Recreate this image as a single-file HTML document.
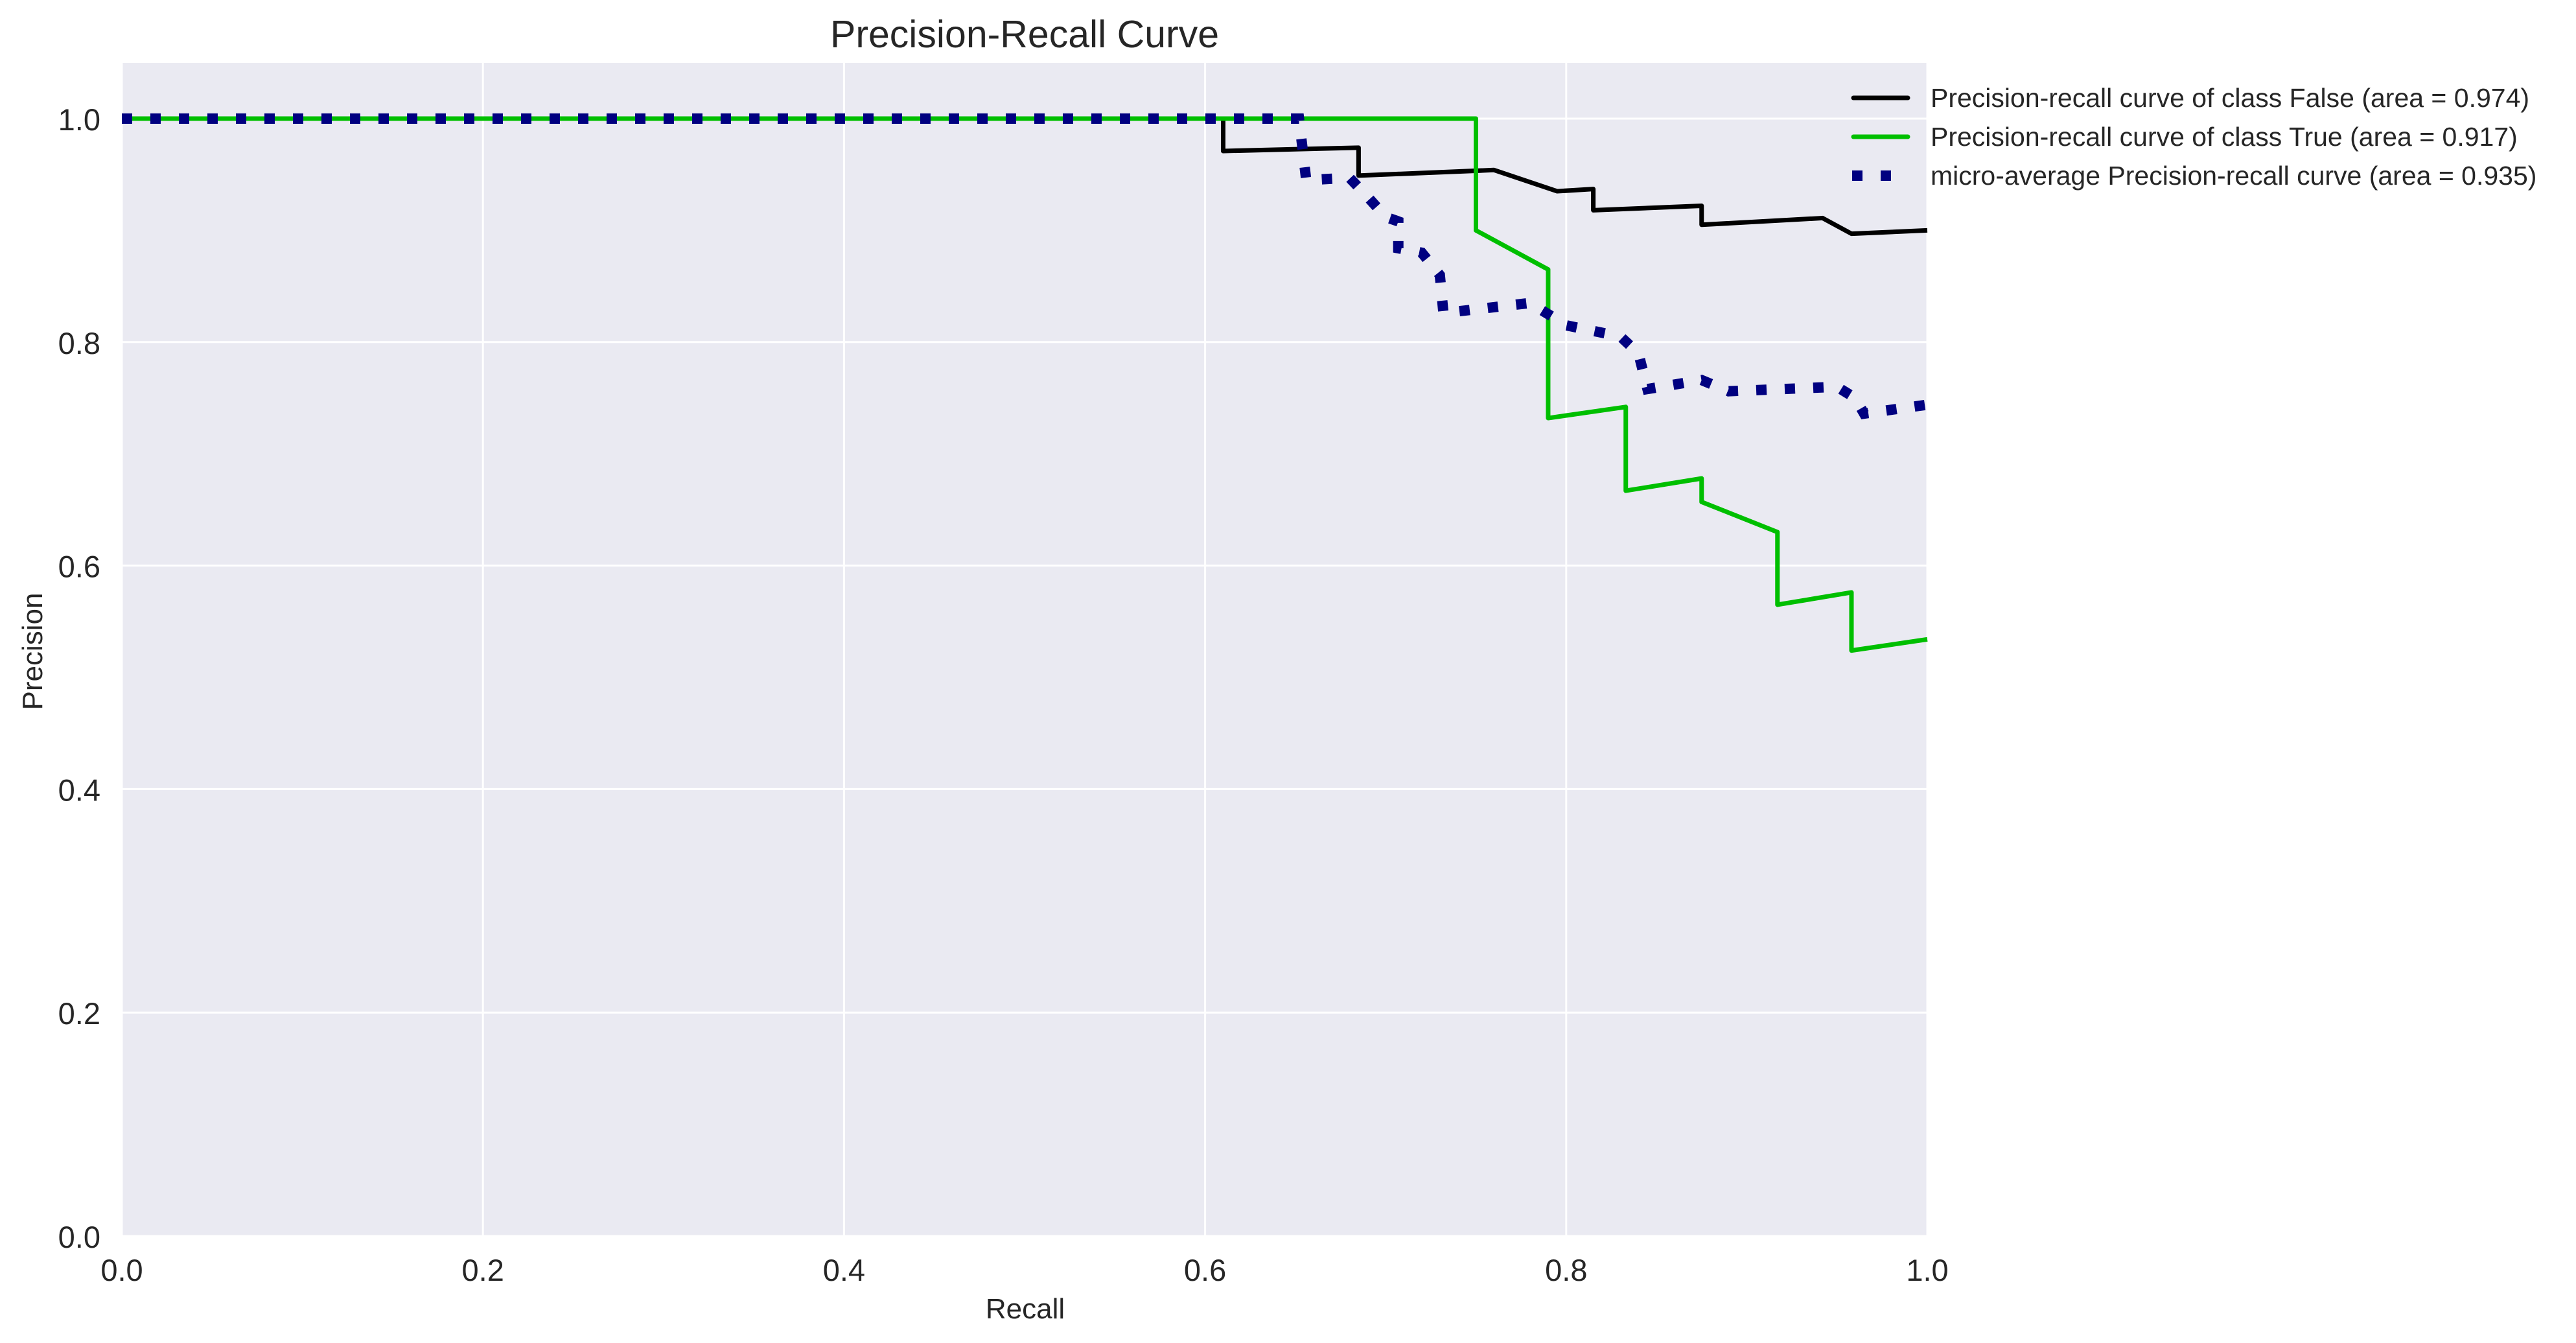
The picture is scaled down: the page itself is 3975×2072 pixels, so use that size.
<!DOCTYPE html>
<html><head><meta charset="utf-8"><style>html,body{margin:0;padding:0;background:#fff}svg{display:block}</style></head>
<body>
<svg width="3975" height="2072" viewBox="0 0 3975 2072" xmlns="http://www.w3.org/2000/svg" font-family="Liberation Sans, sans-serif">
<rect x="188" y="97" width="2786" height="1810" fill="#eaeaf2"/>
<g id="grid"></g>
<g id="series"></g>
<g id="ticks" fill="#262626" font-size="47"></g>
<text x="1581" y="73" text-anchor="middle" font-size="59" fill="#262626">Precision-Recall Curve</text>
<text x="1582" y="2034" text-anchor="middle" font-size="44" fill="#262626">Recall</text>
<text transform="translate(65,1005) rotate(-90)" text-anchor="middle" font-size="44" fill="#262626">Precision</text>
<g font-size="41" fill="#262626">
<line x1="2860" y1="151" x2="2944" y2="151" stroke="#000" stroke-width="7" stroke-linecap="round"/>
<text x="2979" y="165">Precision-recall curve of class False (area = 0.974)</text>
<line x1="2860" y1="211" x2="2944" y2="211" stroke="#00bf00" stroke-width="7" stroke-linecap="round"/>
<text x="2979" y="225">Precision-recall curve of class True (area = 0.917)</text>
<line x1="2858" y1="271" x2="2944" y2="271" stroke="#000080" stroke-width="16" stroke-dasharray="16,28"/>
<text x="2979" y="285">micro-average Precision-recall curve (area = 0.935)</text>
</g>
<script>
const xTicks=[0,0.2,0.4,0.6,0.8,1.0];
const yTicks=[0,0.2,0.4,0.6,0.8,1.0];
const falseRecall=[0,0.61,0.61,0.685,0.685,0.76,0.795,0.815,0.815,0.875,0.875,0.942,0.958,1.0];
const falsePrecision=[1,1,0.971,0.974,0.949,0.954,0.935,0.937,0.918,0.922,0.905,0.911,0.897,0.900];
const trueRecall=[0,0.75,0.75,0.79,0.79,0.833,0.833,0.875,0.875,0.917,0.917,0.958,0.958,1.0];
const truePrecision=[1,1,0.90,0.865,0.732,0.742,0.667,0.678,0.657,0.630,0.565,0.576,0.524,0.534];
const microRecall=[0,0.652,0.656,0.68,0.69,0.70,0.707,0.707,0.72,0.73,0.732,0.78,0.80,0.83,0.84,0.845,0.875,0.89,0.95,0.96,0.965,1.0];
const microPrecision=[1,1,0.945,0.947,0.93,0.912,0.908,0.884,0.88,0.86,0.826,0.835,0.815,0.805,0.79,0.758,0.766,0.756,0.76,0.75,0.736,0.744];
const NS='http://www.w3.org/2000/svg';
const X=v=>188+v*2786, Y=v=>1907-v*1724;
const grid=document.getElementById('grid'),ticks=document.getElementById('ticks'),series=document.getElementById('series');
function mk(tag,attrs,parent){const e=document.createElementNS(NS,tag);for(const k in attrs)e.setAttribute(k,attrs[k]);parent.appendChild(e);return e;}
xTicks.forEach(t=>{
 const l=mk('line',{x1:X(t),x2:X(t),y1:97,y2:1907,stroke:'#fff','stroke-width':3},grid);
 
 
 const tx=mk('text',{x:X(t),y:1976,'text-anchor':'middle'},ticks);tx.textContent=t.toFixed(1);
 
 
});
yTicks.forEach(t=>{
 const l=mk('line',{x1:188,x2:2974,y1:Y(t),y2:Y(t),stroke:'#fff','stroke-width':3},grid);
 
 
 const tx=mk('text',{x:155,y:Y(t)+18,'text-anchor':'end'},ticks);tx.textContent=t.toFixed(1);
 
 
});
function pts(xs,ys){return xs.map((x,i)=>X(x)+','+Y(ys[i])).join(' ');}
const pf=mk('polyline',{points:pts(falseRecall,falsePrecision),fill:'none',stroke:'#000','stroke-width':7,'stroke-linejoin':'round'},series);


const pt=mk('polyline',{points:pts(trueRecall,truePrecision),fill:'none',stroke:'#00bf00','stroke-width':7,'stroke-linejoin':'round'},series);


const pm=mk('polyline',{points:pts(microRecall,microPrecision),fill:'none',stroke:'#000080','stroke-width':16,'stroke-dasharray':'16,28'},series);


</script>
</svg>
</body></html>
